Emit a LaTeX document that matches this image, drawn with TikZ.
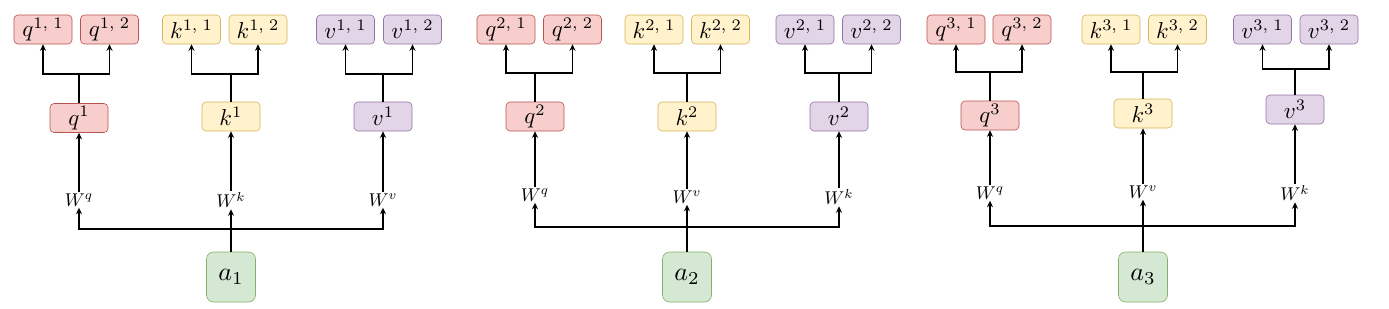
\documentclass[tikz,border=0pt]{standalone}
\usepackage{graphicx}
\usetikzlibrary{arrows.meta}
\definecolor{qfill}{HTML}{F8CECC}\definecolor{qline}{HTML}{B85450}
\definecolor{kfill}{HTML}{FFF2CC}\definecolor{kline}{HTML}{D6B656}
\definecolor{vfill}{HTML}{E1D5E7}\definecolor{vline}{HTML}{9673A6}
\definecolor{afill}{HTML}{D5E8D4}\definecolor{aline}{HTML}{82B366}
\newcommand\BT[1]{\scalebox{2.3}{$#1$}}
\newcommand\AT[1]{\scalebox{2.6}{$#1$}}
\newcommand\WT[1]{\scalebox{1.85}{$#1$}}
\tikzset{
  box/.style={rounded corners=4pt, line width=0.6pt, minimum width=58pt, minimum height=29pt, inner sep=0pt},
  qbox/.style={box, fill=qfill, draw=qline},
  kbox/.style={box, fill=kfill, draw=kline},
  vbox/.style={box, fill=vfill, draw=vline},
  abox/.style={rounded corners=7pt, line width=0.6pt, fill=afill, draw=aline, minimum width=49pt, minimum height=50pt, inner sep=0pt},
  wlab/.style={inner sep=1.2pt},
  arr/.style={line width=1.2pt, -{Stealth[length=6.5pt,width=6pt]}},
  ln/.style={line width=1.2pt},
}
\begin{document}
\begin{tikzpicture}[x=1pt,y=-1pt]
\useasboundingbox (0,0) rectangle (1389,308);
% ---------- group 1
\node[qbox] (q11) at (43,29.5) {\BT{q^{1,\;1}}};
\node[qbox] (q12) at (109.5,29.5) {\BT{q^{1,\;2}}};
\node[kbox] (k11) at (191.5,29.5) {\BT{k^{1,\;1}}};
\node[kbox] (k12) at (258,29.5) {\BT{k^{1,\;2}}};
\node[vbox] (v11) at (345.5,29.5) {\BT{v^{1,\;1}}};
\node[vbox] (v12) at (412.5,29.5) {\BT{v^{1,\;2}}};
\node[qbox] (q1) at (79,118) {\BT{q^1}};
\node[kbox] (k1) at (231,116.5) {\BT{k^1}};
\node[vbox] (v1) at (383,116.5) {\BT{v^1}};
\node[wlab] (wl1) at (79,200) {\WT{W^q}};
\node[wlab] (wm1) at (231,200) {\WT{W^k}};
\node[wlab] (wr1) at (383,200) {\WT{W^v}};
\node[abox] (a1) at (231,277) {\AT{a_1}};
\coordinate (jq1) at (79,74);
\coordinate (jk1) at (231,74);
\coordinate (jv1) at (383,74);
\coordinate (h1) at (231,229);
% ---------- group 2
\node[qbox] (q21) at (506,29.5) {\BT{q^{2,\;1}}};
\node[qbox] (q22) at (572.5,29.5) {\BT{q^{2,\;2}}};
\node[kbox] (k21) at (654,29.5) {\BT{k^{2,\;1}}};
\node[kbox] (k22) at (720.5,29.5) {\BT{k^{2,\;2}}};
\node[vbox] (v21) at (805,29.5) {\BT{v^{2,\;1}}};
\node[vbox] (v22) at (871.5,29.5) {\BT{v^{2,\;2}}};
\node[qbox] (q2) at (535,116.5) {\BT{q^2}};
\node[kbox] (k2) at (687,116.5) {\BT{k^2}};
\node[vbox] (v2) at (839,116.5) {\BT{v^2}};
\node[wlab] (wl2) at (535,195) {\WT{W^q}};
\node[wlab] (wm2) at (687,197) {\WT{W^v}};
\node[wlab] (wr2) at (839,197) {\WT{W^k}};
\node[abox] (a2) at (687,277) {\AT{a_2}};
\coordinate (jq2) at (535,73);
\coordinate (jk2) at (687,73);
\coordinate (jv2) at (839,73);
\coordinate (h2) at (687,227);
% ---------- group 3
\node[qbox] (q31) at (956,29.5) {\BT{q^{3,\;1}}};
\node[qbox] (q32) at (1022,29.5) {\BT{q^{3,\;2}}};
\node[kbox] (k31) at (1111,29.5) {\BT{k^{3,\;1}}};
\node[kbox] (k32) at (1177.5,29.5) {\BT{k^{3,\;2}}};
\node[vbox] (v31) at (1262.5,29.5) {\BT{v^{3,\;1}}};
\node[vbox] (v32) at (1329,29.5) {\BT{v^{3,\;2}}};
\node[qbox] (q3) at (990,115.5) {\BT{q^3}};
\node[kbox] (k3) at (1143,113.5) {\BT{k^3}};
\node[vbox] (v3) at (1295,109.5) {\BT{v^3}};
\node[wlab] (wl3) at (990,193) {\WT{W^q}};
\node[wlab] (wm3) at (1143,192) {\WT{W^v}};
\node[wlab] (wr3) at (1295,193) {\WT{W^k}};
\node[abox] (a3) at (1143,277) {\AT{a_3}};
\coordinate (jq3) at (990,72);
\coordinate (jk3) at (1143,72);
\coordinate (jv3) at (1295,69);
\coordinate (h3) at (1143,226);
% ---------- connectors
\foreach \g in {1,2,3}{
  \foreach \t in {q,k,v}{
    \draw[ln] (\t\g.north) -- (j\t\g);
    \draw[arr] (j\t\g) -| (\t\g1.south);
    \draw[arr] (j\t\g) -| (\t\g2.south);
  }
  \draw[arr] (wl\g.north) -- (q\g.south);
  \draw[arr] (wm\g.north) -- (k\g.south);
  \draw[arr] (wr\g.north) -- (v\g.south);
  \draw[arr] (a\g.north) -- (wm\g.south);
  \draw[arr] (h\g) -| (wl\g.south);
  \draw[arr] (h\g) -| (wr\g.south);
}
\end{tikzpicture}
\end{document}
